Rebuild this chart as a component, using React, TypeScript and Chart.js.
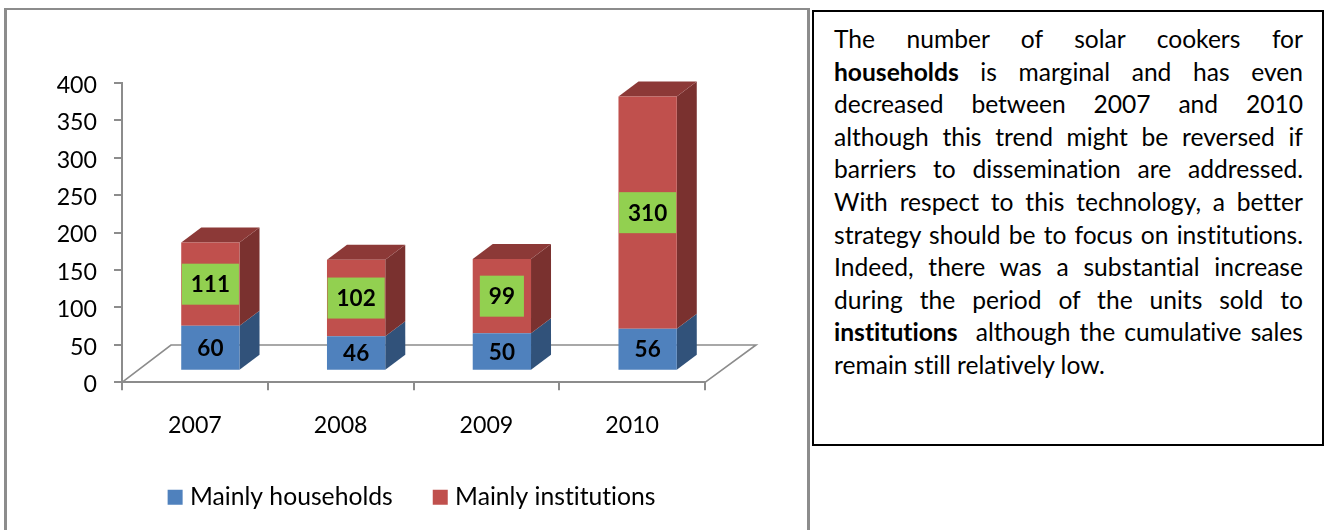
import React, { useEffect, useRef } from "react";
import { Chart, registerables } from "chart.js";

Chart.register(...registerables);

const categories = ["2007", "2008", "2009", "2010"];
const households = [60, 46, 50, 56];
const institutions = [111, 102, 99, 310];
const yTicks = [0, 50, 100, 150, 200, 250, 300, 350, 400];

const FONT = "Lato";
const BLUE = "#4F81BD";
const RED = "#C0504D";
const BLUE_SIDE = "#31527A";
const RED_SIDE = "#7A312F";
const RED_TOP = "#8C3937";
const GREEN = "#92D050";
const AXIS = "#8C8C8C";

const shift = { x: 15.5, y: -11.6 };
const barDepth = { x: 20, y: -15 };
const floorDepth = { x: 49, y: -37.3 };

const textLines: { t: string; b?: boolean }[][] = [
  [{ t: "The number of solar cookers for" }],
  [{ t: "households", b: true }, { t: " is marginal and has even" }],
  [{ t: "decreased between 2007 and 2010" }],
  [{ t: "although this trend might be reversed if" }],
  [{ t: "barriers to dissemination are addressed." }],
  [{ t: "With respect to this technology, a better" }],
  [{ t: "strategy should be to focus on institutions." }],
  [{ t: "Indeed, there was a substantial increase" }],
  [{ t: "during the period of the units sold to" }],
  [{ t: "institutions", b: true }, { t: "  although the cumulative sales" }],
  [{ t: "remain still relatively low." }],
];

const face = (ctx: CanvasRenderingContext2D, pts: number[][], color: string) => {
  ctx.beginPath();
  pts.forEach(([x, y], i) => (i ? ctx.lineTo(x, y) : ctx.moveTo(x, y)));
  ctx.closePath();
  ctx.fillStyle = color;
  ctx.fill();
};

const solid3d = {
  id: "solid3d",
  beforeDraw(chart: any) {
    (chart.ctx as any).textRendering = "optimizeSpeed";
    const a = chart.chartArea;
    chart.legend.left = a.left + 1;
    chart.legend.right = a.right + 1;
    const items = chart.scales.y.getLabelItems(a);
    items.forEach((it: any) => {
      if (!it.options.nudged) {
        it.options.translation = [it.options.translation[0], it.options.translation[1] + 2.5];
        it.options.nudged = true;
      }
    });
  },
  beforeDatasetsDraw(chart: any) {
    const { ctx, chartArea: a } = chart;
    ctx.save();
    // floor outline
    ctx.strokeStyle = AXIS;
    ctx.lineWidth = 1.6;
    ctx.beginPath();
    ctx.moveTo(a.left, a.bottom);
    ctx.lineTo(a.left + floorDepth.x, a.bottom + floorDepth.y);
    ctx.lineTo(a.right + floorDepth.x + 2, a.bottom + floorDepth.y);
    ctx.lineTo(a.right, a.bottom);
    ctx.stroke();
    ctx.translate(shift.x, shift.y);
    // side and top faces
    const colors = [BLUE_SIDE, RED_SIDE];
    chart.data.datasets.forEach((_: any, di: number) => {
      chart.getDatasetMeta(di).data.forEach((bar: any) => {
        const right = bar.x + bar.width / 2;
        const left = bar.x - bar.width / 2;
        face(
          ctx,
          [
            [right, bar.y],
            [right + barDepth.x, bar.y + barDepth.y],
            [right + barDepth.x, bar.base + barDepth.y],
            [right, bar.base],
          ],
          colors[di]
        );
        if (di === 1) {
          face(
            ctx,
            [
              [left, bar.y],
              [left + barDepth.x, bar.y + barDepth.y],
              [right + barDepth.x, bar.y + barDepth.y],
              [right, bar.y],
            ],
            RED_TOP
          );
        }
      });
    });
    ctx.restore();
    ctx.save();
    ctx.translate(shift.x, shift.y);
  },
  afterDatasetsDraw(chart: any) {
    const { ctx } = chart;
    ctx.restore();
    ctx.save();
    ctx.translate(shift.x, shift.y);
    ctx.font = `bold 22.5px ${FONT}`;
    ctx.textAlign = "center";
    ctx.textBaseline = "middle";
    chart.data.datasets.forEach((ds: any, di: number) => {
      chart.getDatasetMeta(di).data.forEach((bar: any, i: number) => {
        const label = String(ds.data[i]);
        const cy = (bar.y + bar.base) / 2;
        if (di === 1) {
          const w = Math.min(ctx.measureText(label).width + 18, bar.width - 1);
          ctx.fillStyle = GREEN;
          ctx.fillRect(bar.x - bar.width / 2 + (bar.width - w) / 2, cy - 20.5, w, 41);
        }
        ctx.fillStyle = "#000";
        ctx.fillText(label, bar.x, cy + 1);
      });
    });
    ctx.restore();
  },
};

export default function App() {
  const ref = useRef<HTMLCanvasElement>(null);
  useEffect(() => {
    const chart = new Chart(ref.current!, {
      type: "bar",
      data: {
        labels: categories,
        datasets: [
          { label: "Mainly households", data: households, backgroundColor: BLUE, borderWidth: 0 },
          { label: "Mainly institutions", data: institutions, backgroundColor: RED, borderWidth: 0 },
        ],
      },
      plugins: [solid3d],
      options: {
        responsive: false,
        animation: false,
        events: [],
        clip: false,
        layout: { padding: { left: 15, right: 105, top: 82.7, bottom: 10.5 } },
        datasets: { bar: { barPercentage: 1, categoryPercentage: 0.4 } },
        scales: {
          x: {
            stacked: true,
            afterFit: (s: any) => { s.height = 57.5; },
            grid: { drawOnChartArea: false, drawTicks: true, tickLength: 8, color: AXIS, lineWidth: 2 },
            border: { color: AXIS, width: 2 },
            ticks: { color: "#000", font: { family: FONT, size: 23.2 }, padding: 21, maxRotation: 0 },
          },
          y: {
            stacked: true,
            min: 0,
            max: 400,
            afterFit: (s: any) => { s.width = 107; },
            afterBuildTicks: (s: any) => { s.ticks = yTicks.map((value) => ({ value })); },
            grid: { drawOnChartArea: false, drawTicks: true, tickLength: 8, color: AXIS, lineWidth: 2 },
            border: { color: AXIS, width: 2 },
            ticks: { color: "#000", font: { family: FONT, size: 23.2 }, padding: 17 },
          },
        },
        plugins: {
          title: { display: false },
          tooltip: { enabled: false },
          legend: {
            display: true,
            position: "bottom",
            labels: {
              color: "#000",
              font: { family: FONT, size: 24.7 },
              boxWidth: 5,
              boxHeight: 5,
              padding: 45,
              generateLabels: (c: any) =>
                c.data.datasets.map((d: any, i: number) => ({
                  text: d.label,
                  fillStyle: d.backgroundColor,
                  strokeStyle: d.backgroundColor,
                  lineWidth: 10,
                  lineJoin: "miter",
                  datasetIndex: i,
                  fontColor: "#000",
                })),
            },
          },
        },
      } as any,
    });
    return () => chart.destroy();
  }, []);

  return (
    <div style={{ position: "absolute", left: 0, top: 0, width: 1331, height: 530, overflow: "hidden", background: "#fff" }}>
      <canvas ref={ref} width={810} height={530} style={{ position: "absolute", left: 0, top: 0, display: "block" }} />
      <div
        style={{
          position: "absolute",
          left: 4,
          top: 8,
          width: 806,
          height: 522,
          boxSizing: "border-box",
          borderLeft: "3px solid #8C8C8C",
          borderTop: "2px solid #8C8C8C",
          borderRight: "3px solid #8C8C8C",
        }}
      />
      <div
        style={{
          position: "absolute",
          left: 812,
          top: 10,
          width: 512,
          height: 436,
          boxSizing: "border-box",
          border: "2px solid #000",
          background: "#fff",
        }}
      />
      <div style={{ position: "absolute", left: 834, top: 23, width: 469, fontFamily: FONT, fontSize: 24.6, lineHeight: "32.6px", color: "#000", fontVariantLigatures: "none" }}>
        {textLines.map((line, i) => (
          <div
            key={i}
            style={{ textAlign: i === textLines.length - 1 ? "left" : "justify", textAlignLast: i === textLines.length - 1 ? "left" : "justify", whiteSpace: "pre-wrap" }}
          >
            {line.map((s, j) =>
              s.b ? <b key={j}>{s.t}</b> : <span key={j}>{s.t}</span>
            )}
          </div>
        ))}
      </div>
    </div>
  );
}
